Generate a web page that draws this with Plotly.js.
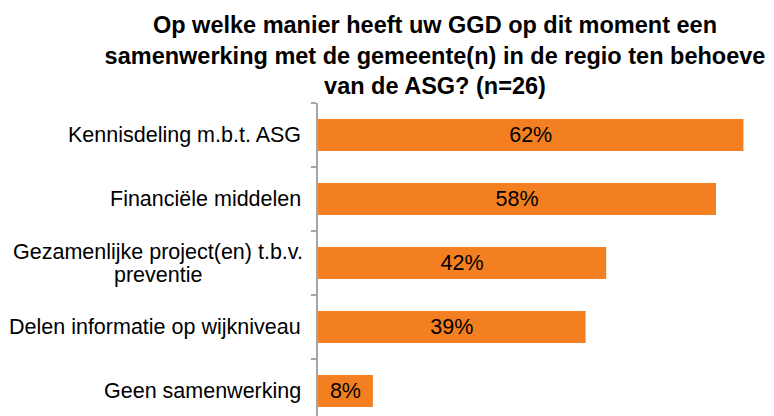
<!DOCTYPE html>
<html>
<head>
<meta charset="utf-8">
<script src="https://cdn.plot.ly/plotly-3.0.1.min.js"></script>
<style>html,body{margin:0;padding:0;background:#fff;}#chart{width:774px;height:416px;}</style>
</head>
<body>
<div id="chart"></div>
<script>
const categories = [
  "Kennisdeling m.b.t. ASG",
  "Financiële middelen",
  "Gezamenlijke project(en) t.b.v.\npreventie",
  "Delen informatie op wijkniveau",
  "Geen samenwerking"
];
const values = [62, 58, 42, 39, 8];
const titleText = "Op welke manier heeft uw GGD op dit moment een<br>samenwerking met de gemeente(n) in de regio ten behoeve<br>van de ASG? (n=26)";

const FONT = "Arial, 'Liberation Sans', sans-serif";
const LABEL_SIZE = 21.5;
const catIds = categories.map(c => c.replace("\n", " "));

const trace = {
  type: "bar",
  orientation: "h",
  y: catIds,
  x: values,
  marker: {color: "#F47F20"},
  width: 0.5,
  text: values.map(v => v + "%"),
  textposition: "inside",
  insidetextanchor: "middle",
  constraintext: "none",
  textfont: {family: FONT, size: LABEL_SIZE, color: "#000"},
  hoverinfo: "skip"
};

// category labels as centred (multi-line) text left of the axis
const ctx = document.createElement("canvas").getContext("2d");
ctx.font = LABEL_SIZE + "px Arial, 'Liberation Sans', sans-serif";
const annotations = [];
const lineH = 23;
categories.forEach((c, i) => {
  const lines = c.split("\n");
  const w = Math.max(...lines.map(l => ctx.measureText(l).width));
  lines.forEach((ln, j) => {
    annotations.push({
      xref: "paper", yref: "y",
      x: 0, y: catIds[i],
      xanchor: lines.length > 1 ? "center" : "right",
      yanchor: "middle",
      xshift: lines.length > 1 ? -15 - w / 2 : -15,
      yshift: -((j - (lines.length - 1) / 2) * lineH),
      text: ln,
      showarrow: false,
      font: {family: FONT, size: LABEL_SIZE, color: "#000"}
    });
  });
});

const layout = {
  width: 774, height: 416,
  margin: {l: 318, r: 10, t: 103, b: 0, pad: 0},
  paper_bgcolor: "#fff", plot_bgcolor: "#fff",
  showlegend: false,
  title: {
    text: titleText,
    font: {family: FONT, size: 23.5, color: "#000", weight: "bold"},
    x: 0.562, xanchor: "center", xref: "container",
    y: 0.92, yanchor: "middle", yref: "container"
  },
  xaxis: {range: [0, 65], visible: false, showgrid: false, zeroline: false, fixedrange: true},
  yaxis: {
    type: "category",
    categoryorder: "array", categoryarray: catIds,
    range: [4.39, -0.5],
    showticklabels: false,
    showline: true, linecolor: "#A6A6A6", linewidth: 2,
    ticks: "outside", ticklen: 5, tickcolor: "#A6A6A6", tickwidth: 2,
    tickson: "boundaries",
    showgrid: false, zeroline: false, fixedrange: true
  },
  annotations: annotations
};

Plotly.newPlot("chart", [trace], layout, {displayModeBar: false, staticPlot: true});
</script>
</body>
</html>
